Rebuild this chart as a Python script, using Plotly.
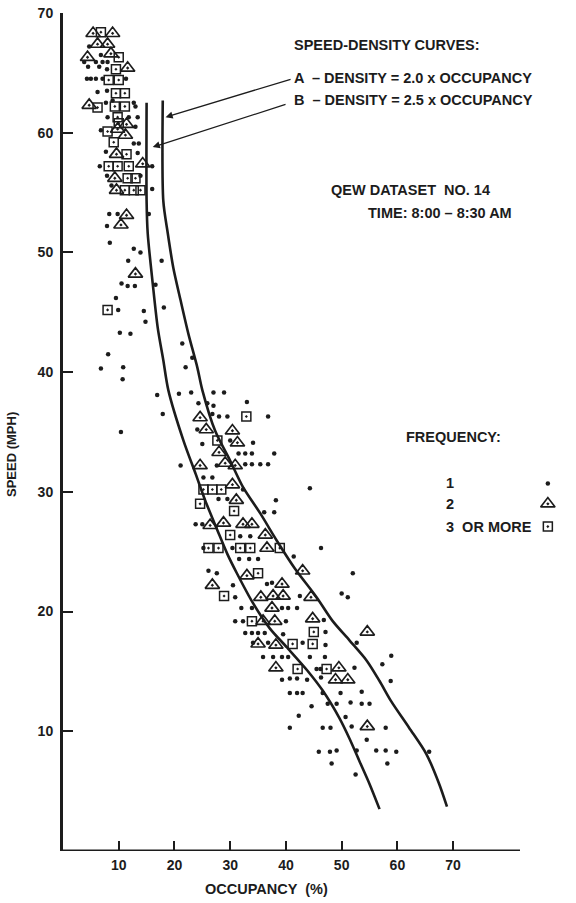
import plotly.graph_objects as go

# ---------------- data ----------------
dots_x = [8.75, 4.7, 6.8, 3.8, 5.9, 7.1, 8.0, 4.5, 6.5, 7.9, 4.3, 5.0, 5.9, 7.1, 11.3,
          6.2, 7.9, 8.9, 12.7, 7.7, 13.0, 8.0, 11.8, 13.4, 13.0, 6.8, 12.7, 13.6, 7.7, 13.4,
          6.6, 16.0, 7.9, 13.9, 8.7, 16.0,
          8.3, 9.8, 15.4, 7.9, 8.4, 12.7, 13.9, 11.7, 17.7, 10.5, 11.6, 12.9, 16.6, 9.5,
          9.9, 18.1, 14.5, 14.8, 10.2, 12.1, 21.4, 23.2, 8.1, 6.8, 10.8, 10.7, 22.0,
          16.9, 20.8, 23.0, 10.4,
          27.0, 28.9, 24.3, 25.9, 27.0, 33.0, 17.9, 26.8, 28.0, 29.5, 36.8, 24.1,
          30.0, 25.0, 34.1, 31.5, 32.7, 33.9, 37.9, 21.1, 27.6, 32.7, 33.9, 35.4, 36.8,
          25.2, 26.8, 32.3, 44.3, 27.9, 29.5, 38.2, 36.1, 37.9, 23.8, 25.0, 31.8, 33.6,
          25.2, 30.4, 46.3, 31.6, 33.4, 35.0, 41.4, 26.1, 27.6,
          30.5, 30.9, 37.5, 36.6, 42.5, 50.0, 51.1, 52.0, 32.0, 33.9, 39.3, 40.4, 42.0,
          30.9, 32.3, 40.0, 46.8, 32.7, 33.9, 35.0, 36.2, 39.5, 47.1,
          34.1, 36.8, 43.0, 47.1, 52.7, 35.9, 37.7, 39.3, 40.4, 44.3, 47.0,
          45.5, 46.2, 52.3, 39.3, 40.7, 42.0, 43.8, 46.3,
          40.7, 42.0, 43.0, 46.6, 49.8, 53.6, 47.5, 49.1, 51.6, 53.6, 55.0, 44.6,
          50.7, 42.3, 40.7, 46.6, 48.0, 51.8, 57.9, 54.5,
          45.9, 47.9, 49.1, 52.7, 56.2, 57.9, 59.8, 65.7, 48.2, 58.2, 52.5,
          58.9, 57.3, 58.8]
dots_y = [70.3, 67.2, 66.5, 65.9, 65.9, 65.9, 65.9, 65.5, 65.5, 65.3, 64.5, 64.5, 64.5, 64.5, 64.5,
          63.4, 63.5, 62.7, 62.5, 62.5, 62.2, 61.3, 61.3, 61.3, 60.5, 60.2, 59.1, 59.1, 58.4, 58.3,
          57.2, 57.2, 56.4, 56.4, 55.6, 55.3,
          53.2, 53.2, 53.2, 52.2, 50.8, 50.3, 50.0, 49.3, 49.3, 47.4, 47.2, 47.2, 47.3, 46.2,
          45.2, 45.4, 45.1, 44.2, 43.3, 43.2, 42.4, 41.2, 41.5, 40.3, 40.4, 39.4, 40.4,
          38.1, 38.2, 38.3, 35.0,
          38.3, 38.3, 37.4, 37.4, 37.2, 37.5, 36.5, 36.5, 36.3, 36.3, 36.3, 35.2,
          34.3, 34.0, 34.1, 33.2, 33.2, 33.2, 33.2, 32.2, 32.2, 32.3, 32.3, 32.3, 32.3,
          31.2, 31.2, 30.2, 30.3, 29.4, 29.4, 29.3, 28.3, 28.3, 27.3, 27.3, 26.3, 26.3,
          25.3, 25.3, 25.3, 24.4, 24.4, 24.4, 24.6, 23.4, 23.2,
          22.2, 21.2, 22.4, 22.3, 21.3, 21.5, 21.2, 23.2, 20.3, 20.3, 20.3, 20.3, 20.3,
          19.2, 19.2, 19.2, 19.3, 18.2, 18.2, 18.2, 18.2, 18.1, 18.3,
          17.4, 17.4, 17.4, 17.2, 17.4, 16.2, 16.2, 16.2, 16.2, 16.2, 16.2,
          15.2, 15.2, 15.3, 14.3, 14.4, 14.4, 14.3, 14.5,
          13.2, 13.2, 13.2, 13.2, 13.2, 13.3, 12.3, 12.3, 12.4, 12.3, 12.3, 12.1,
          11.2, 11.3, 10.3, 10.3, 10.3, 10.4, 10.3, 9.3,
          8.3, 8.3, 8.4, 8.4, 8.4, 8.4, 8.3, 8.3, 7.3, 7.3, 6.4,
          16.3, 15.6, 14.2]

tri_x = [5.4, 8.9, 6.2, 8.0, 4.4, 8.6, 11.6, 4.7, 11.4, 9.8, 11.2, 9.6, 14.3, 9.3, 9.6,
         11.4, 10.4, 13.0,
         24.6, 25.7, 30.4, 31.3, 28.0, 24.6, 29.1, 30.9, 30.4, 31.1, 26.4, 28.8, 32.3, 33.9,
         36.3, 36.6, 43.0, 33.0, 26.8, 39.3, 35.5, 37.7, 39.5, 44.5, 37.5, 35.9, 38.0, 44.8,
         54.6, 35.0, 38.2, 38.2, 49.5, 48.9, 51.1, 54.6]
tri_y = [68.3, 68.3, 67.4, 67.4, 66.3, 66.6, 65.4, 62.3, 60.7, 60.3, 59.8, 58.2, 57.4, 56.2, 55.2,
         53.1, 52.3, 48.2,
         36.2, 35.2, 35.1, 34.1, 33.3, 32.2, 32.4, 32.2, 30.6, 29.3, 27.2, 27.4, 27.3, 27.3,
         26.4, 25.3, 23.4, 23.0, 22.2, 22.3, 21.2, 21.3, 21.3, 21.2, 20.3, 19.2, 19.2, 19.4,
         18.3, 17.3, 17.2, 15.3, 15.3, 14.3, 14.3, 10.4]

sq_x = [6.8, 10.0, 9.5, 8.2, 10.0, 9.5, 11.1, 6.2, 9.3, 11.1, 9.8, 10.0, 8.0, 9.1, 11.4,
        8.2, 9.8, 11.8, 11.6, 13.0, 11.1, 12.7, 13.9, 8.0,
        32.9, 27.7, 25.2, 26.8, 28.4, 24.6, 30.7, 30.0, 26.1, 27.9, 31.8, 33.6, 38.9, 35.0,
        28.9, 33.9, 45.0, 41.2, 44.8, 42.1, 47.3]
sq_y = [68.4, 66.3, 65.3, 64.4, 64.4, 63.3, 63.3, 62.1, 62.2, 62.2, 61.3, 60.8, 60.1, 59.2, 58.2,
        57.2, 57.2, 57.2, 56.2, 56.2, 55.2, 55.2, 55.2, 45.2,
        36.3, 34.3, 30.2, 30.2, 30.2, 29.0, 28.4, 26.4, 25.3, 25.3, 25.3, 25.3, 25.3, 23.2,
        21.3, 19.2, 18.3, 17.3, 17.3, 15.2, 15.2]

# Curve A: density = 2.0 x occupancy (right curve)
curveA_occ = [17.9, 18.0, 18.8, 19.8, 21.1, 22.5, 24.1, 25.0, 27.3, 30.0, 32.3, 35.4, 38.4,
              41.6, 45.5, 48.4, 51.4, 54.5, 56.8, 58.9, 62.1, 65.2, 67.5, 68.9]
curveA_spd = [62.7, 54.3, 51.6, 48.7, 46.0, 43.2, 40.4, 38.5, 35.1, 32.6, 30.4, 28.2, 25.9,
              23.6, 21.2, 19.2, 17.6, 15.9, 14.2, 12.5, 10.3, 8.1, 5.6, 3.7]
# Curve B: density = 2.5 x occupancy (left curve)
curveB_occ = [15.0, 15.0, 15.2, 16.1, 17.0, 18.0, 18.9, 21.6, 23.8, 25.5, 27.7, 29.5, 31.2,
              34.1, 37.1, 40.2, 43.8, 46.6, 49.6, 51.4, 53.2, 55.0, 56.8]
curveB_spd = [62.5, 54.3, 51.6, 47.4, 43.7, 41.0, 38.5, 34.3, 31.5, 29.3, 26.8, 24.8, 23.2,
              20.7, 18.6, 17.0, 15.1, 13.4, 11.1, 9.4, 7.5, 5.6, 3.5]

x_ticks = [10, 20, 30, 40, 50, 60, 70]
y_ticks = [10, 20, 30, 40, 50, 60, 70]
x_axis_end = 82

# frequency key
freq_labels = ["1", "2", "3  OR MORE"]
freq_y = [30.7, 29.0, 27.1]
key_x = 87.0

INK = "#1c1c1c"
FONT = "Liberation Sans"

fig = go.Figure()

for cx, cy in ((curveA_occ, curveA_spd), (curveB_occ, curveB_spd)):
    fig.add_trace(go.Scatter(x=cx, y=cy, mode="lines",
                             line=dict(color=INK, width=2.6, shape="spline", smoothing=0.8),
                             hoverinfo="skip", showlegend=False))

DOT = dict(symbol="circle", size=4.5, color=INK)
TRI = dict(symbol="triangle-up-open-dot", size=12.5, color=INK, line=dict(width=1.7, color=INK))
SQ = dict(symbol="square-open-dot", size=9, color=INK, line=dict(width=1.5, color=INK))

fig.add_trace(go.Scatter(x=dots_x, y=dots_y, mode="markers", marker=DOT, showlegend=False))
fig.add_trace(go.Scatter(x=tri_x, y=tri_y, mode="markers", marker=TRI, showlegend=False))
fig.add_trace(go.Scatter(x=sq_x, y=sq_y, mode="markers", marker=SQ, showlegend=False))

# frequency key symbols
for yy, mk in zip(freq_y, (DOT, TRI, SQ)):
    fig.add_trace(go.Scatter(x=[key_x], y=[yy], mode="markers", marker=mk,
                             hoverinfo="skip", showlegend=False))

tfont = dict(family=FONT, size=14.5, color=INK, weight="bold")

annotations = [
    dict(x=41.3, y=67.3, text="SPEED-DENSITY CURVES:", xanchor="left"),
    dict(x=41.3, y=64.6, text="A  – DENSITY = 2.0 x OCCUPANCY", xanchor="left"),
    dict(x=41.3, y=62.7, text="B  – DENSITY = 2.5 x OCCUPANCY", xanchor="left"),
    dict(x=47.9, y=55.2, text="QEW DATASET  NO. 14", xanchor="left"),
    dict(x=54.5, y=53.3, text="TIME: 8:00 – 8:30 AM", xanchor="left"),
    dict(x=61.4, y=34.6, text="FREQUENCY:", xanchor="left"),
]
for i, lab in enumerate(freq_labels):
    annotations.append(dict(x=68.6, y=freq_y[i], text=lab, xanchor="left"))
for a in annotations:
    a.update(xref="x", yref="y", showarrow=False, font=tfont, yanchor="middle", borderpad=0)

# arrows from labels A and B to curves
annotations.append(dict(x=18.4, y=61.3, ax=41.1, ay=64.5, xref="x", yref="y", axref="x", ayref="y",
                        showarrow=True, arrowhead=2, arrowsize=1.1, arrowwidth=1.3,
                        arrowcolor=INK, text=""))
annotations.append(dict(x=16.1, y=58.8, ax=40.2, ay=62.4, xref="x", yref="y", axref="x", ayref="y",
                        showarrow=True, arrowhead=2, arrowsize=1.1, arrowwidth=1.3,
                        arrowcolor=INK, text=""))

W, H = 576, 903
L, T, B, R = 63, 13, 52, 0
px_per_unit = 5.573
x_max = (W - L - R) / px_per_unit
plot_w, plot_h = W - L - R, H - T - B

# axis titles (paper coordinates)
annotations.append(dict(x=(266 - L) / plot_w, y=(H - B - 889) / plot_h, xref="paper", yref="paper",
                        text="OCCUPANCY  (%)", showarrow=False, font=tfont,
                        xanchor="center", yanchor="middle"))
annotations.append(dict(x=(12 - L) / plot_w, y=(H - B - 455) / plot_h, xref="paper", yref="paper",
                        text="SPEED (MPH)", showarrow=False, textangle=-90,
                        font=dict(family=FONT, size=13, color=INK, weight="bold"),
                        xanchor="center", yanchor="middle"))

fig.update_layout(
    width=W, height=H,
    margin=dict(l=L, r=R, t=T, b=B, pad=0),
    paper_bgcolor="white", plot_bgcolor="white",
    annotations=annotations,
    showlegend=False,
    shapes=[dict(type="line", xref="x", yref="y", x0=0, x1=x_axis_end, y0=0, y1=0,
                 line=dict(color=INK, width=3), layer="above")],
)
tickfont = dict(family=FONT, size=14, color=INK, weight="bold")
fig.update_xaxes(range=[0, x_max], tickvals=x_ticks, ticktext=[str(v) for v in x_ticks],
                 ticks="inside", ticklen=10, tickwidth=2, tickcolor=INK,
                 showline=False, showgrid=False, zeroline=False,
                 tickfont=tickfont, ticklabelstandoff=4)
fig.update_yaxes(range=[0, 70], tickvals=y_ticks, ticktext=[str(v) for v in y_ticks],
                 ticks="inside", ticklen=10, tickwidth=2, tickcolor=INK,
                 showline=True, linewidth=3, linecolor=INK, showgrid=False, zeroline=False,
                 tickfont=tickfont, ticklabelstandoff=4, ticklabeloverflow="allow")

# remove the default 8px page margin so the figure fills the window exactly
fig.write_html("out.html", config={"displayModeBar": False},
               post_script="document.body.style.margin='0px';")
